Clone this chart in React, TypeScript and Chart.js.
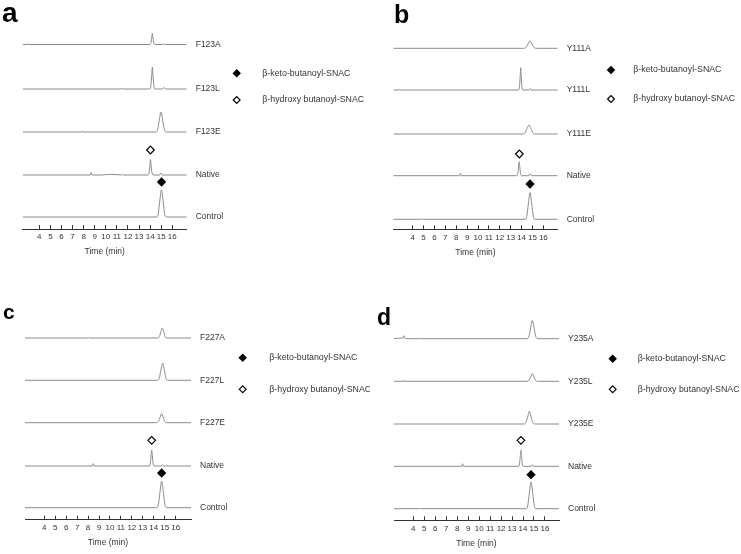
import React, { useEffect, useRef } from 'react';
import { Chart, registerables } from 'chart.js';

Chart.register(...registerables);

type Pt = [number, number];

const FONT = 'Arial, "Liberation Sans", sans-serif';

// ---- shared ----
const timeTicks = [4, 5, 6, 7, 8, 9, 10, 11, 12, 13, 14, 15, 16];
const legendLabels = ['β-keto-butanoyl-SNAC', 'β-hydroxy butanoyl-SNAC'];
const axisTitle = 'Time (min)';

// ---- panel a ----
const namesA = ['F123A', 'F123L', 'F123E', 'Native', 'Control'];
const a_F123A: Pt[] = [[2.5, 0], [2.95, 0], [3.0, 0.8], [3.05, 0], [13.95, 0], [14.06, 1.3], [14.14, 6.5], [14.2, 11], [14.26, 6.5], [14.34, 1.3], [14.45, 0], [15.1, 0], [15.2, 0.6], [15.3, 0], [17.3, 0]];
const a_F123L: Pt[] = [[2.5, 0], [11.3, 0], [11.4, 0.6], [11.5, 0], [13.95, 0], [14.06, 2.5], [14.14, 13], [14.2, 22], [14.26, 13], [14.34, 2.5], [14.45, 0], [15.1, 0], [15.25, 1.4], [15.4, 0], [17.3, 0]];
const a_F123E: Pt[] = [[2.5, 0], [7.85, 0], [7.9, 1], [7.95, 0], [14.52, 0], [14.68, 2.5], [14.83, 12], [14.98, 20], [15.13, 12], [15.28, 2.5], [15.45, 0], [17.3, 0]];
const a_Native: Pt[] = [[2.5, 0], [8.6, 0], [8.67, 2.5], [8.74, 0], [9.6, 0], [10.3, 0.6], [11.0, 0.4], [11.4, 0], [11.5, 0.8], [11.6, 0], [13.8, 0], [13.9, 2], [13.97, 9], [14.03, 15.5], [14.09, 9], [14.17, 2], [14.28, 0], [14.85, 0], [14.98, 2], [15.1, 0], [17.3, 0]];
const a_Control: Pt[] = [[2.5, 0], [14.58, 0], [14.73, 3], [14.86, 15], [15.02, 27], [15.18, 15], [15.31, 3], [15.47, 0], [17.3, 0]];
const a_hydroxy: Pt = [14.03, 25];
const a_keto: Pt = [15.03, 35];

// ---- panel b ----
const namesB = ['Y111A', 'Y111L', 'Y111E', 'Native', 'Control'];
const b_Y111A: Pt[] = [[2.22, 0], [14.2, 0], [14.42, 1], [14.6, 4.5], [14.77, 7.3], [14.94, 4.5], [15.12, 1], [15.35, 0], [17.32, 0]];
const b_Y111L: Pt[] = [[2.22, 0], [2.75, 0], [2.8, 0.7], [2.85, 0], [13.7, 0], [13.8, 2.5], [13.87, 13], [13.92, 22.3], [13.97, 13], [14.04, 2.5], [14.14, 0], [14.7, 0], [14.8, 1.5], [14.9, 0], [17.32, 0]];
const b_Y111E: Pt[] = [[2.22, 0], [14.12, 0], [14.33, 1.2], [14.5, 5.5], [14.68, 9], [14.86, 5.5], [15.03, 1.2], [15.25, 0], [17.32, 0]];
const b_Native: Pt[] = [[2.22, 0], [8.33, 0], [8.4, 2.5], [8.47, 0], [13.55, 0], [13.65, 2], [13.72, 8.5], [13.78, 14], [13.84, 8.5], [13.91, 2], [14.02, 0], [14.68, 0], [14.8, 2], [14.92, 0], [17.32, 0]];
const b_Control: Pt[] = [[2.22, 0], [4.7, 0], [4.8, 0.4], [4.9, 0], [14.32, 0], [14.48, 3], [14.62, 15], [14.78, 26.7], [14.94, 15], [15.08, 3], [15.25, 0], [17.32, 0]];
const b_hydroxy: Pt = [13.8, 21.7];
const b_keto: Pt = [14.78, 35.3];

// ---- panel c ----
const namesC = ['F227A', 'F227L', 'F227E', 'Native', 'Control'];
const c_F227A: Pt[] = [[2.24, 0], [8.0, 0], [8.05, 0.5], [8.1, 0], [14.35, 0], [14.52, 1.5], [14.65, 6.5], [14.78, 10], [14.91, 6.5], [15.04, 1.5], [15.22, 0], [17.4, 0]];
const c_F227L: Pt[] = [[2.24, 0], [14.32, 0], [14.5, 2], [14.65, 10], [14.81, 17.3], [14.97, 10], [15.12, 2], [15.32, 0], [17.4, 0]];
const c_F227E: Pt[] = [[2.24, 0], [14.25, 0], [14.43, 1.3], [14.58, 5.5], [14.72, 9], [14.86, 5.5], [15.01, 1.3], [15.2, 0], [17.4, 0]];
const c_Native: Pt[] = [[2.24, 0], [8.41, 0], [8.48, 2.5], [8.55, 0], [13.58, 0], [13.68, 2.2], [13.75, 10], [13.81, 16], [13.87, 10], [13.94, 2.2], [14.05, 0], [14.7, 0], [14.8, 1.5], [14.9, 0], [17.4, 0]];
const c_Control: Pt[] = [[2.24, 0], [14.26, 0], [14.42, 3], [14.56, 15], [14.72, 26.7], [14.88, 15], [15.02, 3], [15.2, 0], [17.4, 0]];
const c_hydroxy: Pt = [13.81, 25.7];
const c_keto: Pt = [14.72, 34.7];

// ---- panel d ----
const namesD = ['Y235A', 'Y235L', 'Y235E', 'Native', 'Control'];
const d_Y235A: Pt[] = [[2.24, 0], [2.9, 0.6], [3.1, 0.8], [3.15, 3], [3.22, 0.5], [3.4, 0], [4.6, 0], [4.65, 0.4], [4.7, 0], [14.36, 0], [14.54, 2.2], [14.69, 10.5], [14.85, 18.4], [15.01, 10.5], [15.16, 2.2], [15.36, 0], [17.28, 0]];
const d_Y235L: Pt[] = [[2.24, 0], [3.1, 0], [3.15, 1], [3.2, 0], [14.38, 0], [14.55, 1], [14.7, 4.5], [14.85, 7.6], [15.0, 4.5], [15.15, 1], [15.34, 0], [17.28, 0]];
const d_Y235E: Pt[] = [[2.24, 0], [14.08, 0], [14.26, 1.5], [14.42, 7], [14.58, 12.7], [14.74, 7], [14.9, 1.5], [15.1, 0], [17.28, 0]];
const d_Native: Pt[] = [[2.24, 0], [8.43, 0], [8.5, 2.5], [8.57, 0], [13.58, 0], [13.68, 2.2], [13.75, 10], [13.81, 16], [13.87, 10], [13.94, 2.2], [14.05, 0], [14.75, 0], [14.85, 1.5], [14.95, 0], [17.28, 0]];
const d_Control: Pt[] = [[2.24, 0], [4.6, 0], [4.65, 0.5], [4.7, 0], [14.27, 0], [14.43, 3], [14.57, 15], [14.73, 26.7], [14.89, 15], [15.03, 3], [15.2, 0], [17.28, 0]];
const d_hydroxy: Pt = [13.81, 26];
const d_keto: Pt = [14.73, 34];

// ---- layout (positions / styles, not data) ----
interface PanelCfg {
  left: number; top: number; w: number; h: number;
  chartLeft: number; chartRight: number; chartTop: number; axisY: number;
  xMin: number; xMax: number;
  offsets: number[];
  names: string[];
  traces: Pt[][];
  hydroxy: Pt; keto: Pt;
  letter: string; letterSize: number; letterX: number; letterY: number;
  legendX: number; legendTextX: number; legendY: number[];
}

const panels: PanelCfg[] = [
  {
    left: 0, top: 0, w: 370, h: 277,
    chartLeft: 22.7, chartRight: 186.7, chartTop: 25, axisY: 229,
    xMin: 2.5, xMax: 17.3,
    offsets: [184.5, 140, 97, 54, 12],
    names: namesA, traces: [a_F123A, a_F123L, a_F123E, a_Native, a_Control],
    hydroxy: a_hydroxy, keto: a_keto,
    letter: 'a', letterSize: 28, letterX: 2, letterY: 22,
    legendX: 236.7, legendTextX: 262.3, legendY: [73.3, 100],
  },
  {
    left: 370, top: 0, w: 371, h: 277,
    chartLeft: 23.3, chartRight: 187.7, chartTop: 25, axisY: 229.3,
    xMin: 2.22, xMax: 17.32,
    offsets: [181, 139.3, 95.3, 53.6, 10],
    names: namesB, traces: [b_Y111A, b_Y111L, b_Y111E, b_Native, b_Control],
    hydroxy: b_hydroxy, keto: b_keto,
    letter: 'b', letterSize: 25, letterX: 24, letterY: 23,
    legendX: 241, legendTextX: 263.3, legendY: [70, 99],
  },
  {
    left: 0, top: 277, w: 370, h: 277,
    chartLeft: 25, chartRight: 191, chartTop: 40, axisY: 242.7,
    xMin: 2.24, xMax: 17.4,
    offsets: [181.7, 139.4, 97, 53.7, 12],
    names: namesC, traces: [c_F227A, c_F227L, c_F227E, c_Native, c_Control],
    hydroxy: c_hydroxy, keto: c_keto,
    letter: 'c', letterSize: 21, letterX: 3, letterY: 42,
    legendX: 242.7, legendTextX: 269.3, legendY: [80.7, 112.3],
  },
  {
    left: 370, top: 277, w: 371, h: 277,
    chartLeft: 24, chartRight: 189, chartTop: 40, axisY: 243.3,
    xMin: 2.24, xMax: 17.28,
    offsets: [181.6, 139, 96.3, 54, 11.6],
    names: namesD, traces: [d_Y235A, d_Y235L, d_Y235E, d_Native, d_Control],
    hydroxy: d_hydroxy, keto: d_keto,
    letter: 'd', letterSize: 23, letterX: 7, letterY: 48,
    legendX: 242.7, legendTextX: 267.7, legendY: [81.7, 112.3],
  },
];

function diamond(ctx: CanvasRenderingContext2D, x: number, y: number, r: number, filled: boolean) {
  ctx.beginPath();
  ctx.moveTo(x - r, y);
  ctx.lineTo(x, y - r);
  ctx.lineTo(x + r, y);
  ctx.lineTo(x, y + r);
  ctx.closePath();
  ctx.fillStyle = filled ? '#000' : '#fff';
  ctx.fill();
  ctx.lineWidth = 1.2;
  ctx.strokeStyle = '#000';
  ctx.stroke();
}

function makeDecor(p: PanelCfg) {
  return {
    id: 'decor',
    afterDraw(chart: any) {
      const ctx: CanvasRenderingContext2D = chart.ctx;
      ctx.save();
      ctx.fillStyle = '#000';
      ctx.font = `bold ${p.letterSize}px ${FONT}`;
      ctx.textBaseline = 'alphabetic';
      ctx.textAlign = 'left';
      ctx.fillText(p.letter, p.letterX, p.letterY);
      legendLabels.forEach((label, i) => {
        const y = p.legendY[i];
        diamond(ctx, p.legendX, y, 3.4, i === 0);
        ctx.fillStyle = '#333';
        ctx.font = `8.8px ${FONT}`;
        ctx.textBaseline = 'middle';
        ctx.fillText(label, p.legendTextX, y);
      });
      ctx.restore();
    },
  };
}

function Panel({ p }: { p: PanelCfg }) {
  const ref = useRef<HTMLCanvasElement | null>(null);
  useEffect(() => {
    if (!ref.current) return;
    const traceSets = p.traces.map((pts, i) => ({
      type: 'line' as const,
      label: p.names[i],
      data: pts.map(([t, v]) => ({ x: t, y: p.offsets[i] + v })),
      borderColor: '#8a8a8a',
      borderWidth: 1,
      pointRadius: 0,
      cubicInterpolationMode: 'monotone' as const,
      fill: false,
    }));
    const markerSets = [
      { pt: p.keto, base: p.offsets[4], filled: true },
      { pt: p.hydroxy, base: p.offsets[3], filled: false },
    ].map((m, i) => ({
      type: 'line' as const,
      label: legendLabels[i],
      data: [{ x: m.pt[0], y: m.base + m.pt[1] }],
      showLine: false,
      pointStyle: 'rectRot' as const,
      pointRadius: 3.8,
      pointBackgroundColor: m.filled ? '#000' : '#fff',
      pointBorderColor: '#000',
      pointBorderWidth: 1.2,
      clip: false as any,
    }));
    const xHeight = p.h - p.axisY;
    const titleLH = 8.5 * 1.2;
    const titlePadBottom = p.h - p.axisY - 23 - titleLH / 2;
    const chart = new Chart(ref.current, {
      type: 'line',
      data: { datasets: [...traceSets, ...markerSets] as any },
      options: {
        responsive: false,
        animation: false,
        devicePixelRatio: 1,
        layout: { padding: { left: p.chartLeft, top: p.chartTop, right: 0, bottom: 0 } },
        plugins: { legend: { display: false }, tooltip: { enabled: false } },
        scales: {
          x: {
            type: 'linear',
            min: p.xMin,
            max: p.xMax,
            afterBuildTicks: (axis: any) => { axis.ticks = timeTicks.map((v) => ({ value: v })); },
            afterFit: (axis: any) => { axis.height = xHeight; },
            grid: { display: true, drawOnChartArea: false, drawTicks: true, tickLength: -4, color: '#333', lineWidth: 1 },
            border: { display: true, color: '#333', width: 1 },
            ticks: { autoSkip: false, maxRotation: 0, padding: 7.2, color: '#333', font: { family: FONT, size: 8 } },
            title: { display: true, text: axisTitle, color: '#333', font: { family: FONT, size: 8.5, lineHeight: 1.2 }, padding: { top: 0, bottom: titlePadBottom } },
          },
          y: {
            type: 'linear',
            position: 'right',
            min: 0,
            max: p.axisY - p.chartTop,
            afterBuildTicks: (axis: any) => { axis.ticks = p.offsets.map((v) => ({ value: v })); },
            afterFit: (axis: any) => { axis.width = p.w - p.chartRight; },
            grid: { display: false, drawTicks: false },
            border: { display: false },
            ticks: {
              autoSkip: false,
              padding: 9,
              color: '#333',
              font: { family: FONT, size: 8.5 },
              callback: (_v: any, i: number) => p.names[i],
            },
          },
        },
      },
      plugins: [makeDecor(p)],
    });
    return () => chart.destroy();
  }, [p]);
  return (
    <canvas
      ref={ref}
      width={p.w}
      height={p.h}
      style={{ position: 'absolute', left: p.left, top: p.top, width: p.w, height: p.h, display: 'block' }}
    />
  );
}

export default function App() {
  return (
    <div style={{ position: 'absolute', left: 0, top: 0, width: 741, height: 554, background: '#fff' }}>
      {panels.map((p) => (
        <Panel key={p.letter} p={p} />
      ))}
    </div>
  );
}
